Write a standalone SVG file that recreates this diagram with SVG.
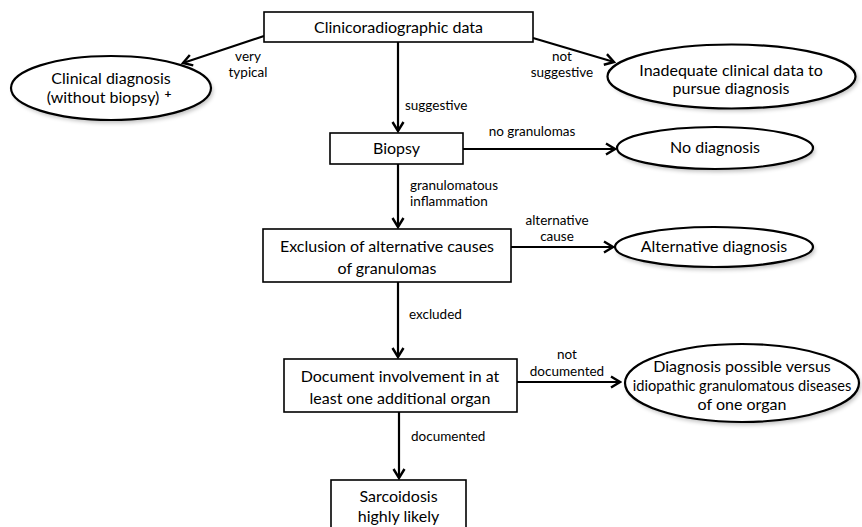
<svg xmlns="http://www.w3.org/2000/svg" width="862" height="527" viewBox="0 0 862 527">
<style>
.box{fill:#fff;stroke:#000;stroke-width:1.6}
.ell{fill:#fff;stroke:#000;stroke-width:2.2}
.sh{fill:#000;opacity:0.25;filter:url(#blur)}
.t{font-family:Lato,"Open Sans","Liberation Sans",sans-serif;font-size:16px;fill:#000;text-anchor:middle}
.l{font-family:Lato,"Open Sans","Liberation Sans",sans-serif;font-size:13.5px;fill:#000}
.c{text-anchor:middle}
.e{fill:none;stroke:#000;stroke-width:2.2;marker-end:url(#ah)}
</style>
<defs>
<filter id="blur" x="-10%" y="-20%" width="120%" height="140%"><feGaussianBlur stdDeviation="2"/></filter>
<marker id="ah" markerUnits="userSpaceOnUse" markerWidth="14" markerHeight="14" viewBox="0 0 14 14" refX="12" refY="7" orient="auto">
<path d="M3,1.5 L12,7 L3,12.5" fill="none" stroke="#000" stroke-width="2.4" stroke-linejoin="miter"/>
</marker>
</defs>
<rect width="862" height="527" fill="#fff"/>
<g id="connectors">
<line class="e" x1="264" y1="36" x2="183" y2="63"/>
<line class="e" x1="398" y1="42" x2="398" y2="131"/>
<line class="e" x1="533" y1="38" x2="614" y2="62"/>
<line class="e" x1="463" y1="149" x2="615" y2="149"/>
<line class="e" x1="398" y1="164" x2="398" y2="227"/>
<line class="e" x1="511" y1="247" x2="613" y2="247"/>
<line class="e" x1="398" y1="282" x2="398" y2="357"/>
<line class="e" x1="517" y1="382" x2="620" y2="382"/>
<line class="e" x1="399" y1="412" x2="399" y2="478"/>
<text class="l c" x="248" y="61">very</text>
<text class="l c" x="248" y="77">typical</text>
<text class="l" x="405" y="110">suggestive</text>
<text class="l c" x="562" y="61">not</text>
<text class="l c" x="562" y="77">suggestive</text>
<text class="l c" x="532" y="136">no granulomas</text>
<text class="l" x="410" y="190">granulomatous</text>
<text class="l" x="410" y="206">inflammation</text>
<text class="l c" x="557" y="225">alternative</text>
<text class="l c" x="557" y="241">cause</text>
<text class="l" x="409" y="319">excluded</text>
<text class="l c" x="567" y="359">not</text>
<text class="l c" x="567" y="376">documented</text>
<text class="l" x="411" y="441">documented</text>
</g>
<g id="n-clinical">
<ellipse class="sh" cx="113" cy="91" rx="100" ry="32"/>
<ellipse class="ell" cx="111" cy="88" rx="100" ry="32"/>
<text class="t" x="111" y="84">Clinical diagnosis</text>
<text class="t" x="103" y="103">(without biopsy)</text>
<text class="t" x="168" y="98" style="font-size:12px;font-weight:bold">+</text>
</g>
<g id="n-clinico">
<rect class="box" x="264" y="12" width="269" height="30"/>
<text class="t" x="398.5" y="33">Clinicoradiographic data</text>
</g>
<g id="n-inadequate">
<ellipse class="sh" cx="734" cy="79" rx="124" ry="32"/>
<ellipse class="ell" cx="731.5" cy="76.5" rx="124" ry="32"/>
<text class="t" x="731" y="76">Inadequate clinical data to</text>
<text class="t" x="731" y="94">pursue diagnosis</text>
</g>
<g id="n-biopsy">
<rect class="box" x="330" y="133" width="133" height="31"/>
<text class="t" x="396.5" y="154">Biopsy</text>
</g>
<g id="n-nodiag">
<ellipse class="sh" cx="717" cy="151" rx="98" ry="21"/>
<ellipse class="ell" cx="715" cy="148" rx="98" ry="21"/>
<text class="t" x="715" y="153">No diagnosis</text>
</g>
<g id="n-exclusion">
<rect class="box" x="263" y="229" width="248" height="53"/>
<text class="t" x="387" y="252">Exclusion of alternative causes</text>
<text class="t" x="387" y="274">of granulomas</text>
</g>
<g id="n-altdiag">
<ellipse class="sh" cx="716" cy="250" rx="99" ry="20"/>
<ellipse class="ell" cx="714" cy="247" rx="99" ry="20"/>
<text class="t" x="714" y="252">Alternative diagnosis</text>
</g>
<g id="n-document">
<rect class="box" x="284" y="359" width="233" height="53"/>
<text class="t" x="400" y="382">Document involvement in at</text>
<text class="t" x="400" y="404">least one additional organ</text>
</g>
<g id="n-possible">
<ellipse class="sh" cx="744" cy="386" rx="117" ry="39"/>
<ellipse class="ell" cx="742" cy="383" rx="117" ry="39"/>
<text class="t" x="742" y="372">Diagnosis possible versus</text>
<text class="t" x="742" y="391" style="font-size:14.6px">idiopathic granulomatous diseases</text>
<text class="t" x="742" y="410">of one organ</text>
</g>
<g id="n-sarcoidosis">
<rect class="box" x="331" y="480" width="135" height="52"/>
<text class="t" x="398.5" y="502">Sarcoidosis</text>
<text class="t" x="398.5" y="522">highly likely</text>
</g>
</svg>
